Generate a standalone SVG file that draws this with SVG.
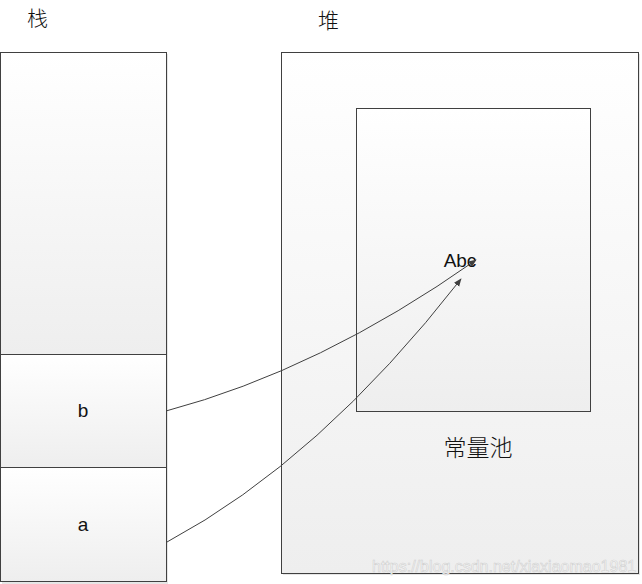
<svg xmlns="http://www.w3.org/2000/svg" width="642" height="584" viewBox="0 0 642 584">
<style>
.box{stroke:#404040;stroke-width:1;fill:url(#g)}
.cjk{font-family:"Noto Sans CJK SC","Noto Sans",sans-serif;fill:#111;font-weight:300}
.lbl{font-family:"Liberation Sans",Arial,sans-serif;font-size:19px;fill:#111;text-anchor:middle}
.conn{fill:none;stroke:#404040;stroke-width:1}
.wm{font-family:"Liberation Sans",Arial,sans-serif;font-size:16px;fill:#fafafa;stroke:#d0d0d0;stroke-width:0.6}
</style>
<defs>
<linearGradient id="g" x1="0" y1="0" x2="0" y2="1">
<stop offset="0" stop-color="#ffffff"/>
<stop offset="1" stop-color="#eeeeee"/>
</linearGradient>
<marker id="arr" viewBox="0 0 10 10" refX="9" refY="5" markerWidth="8" markerHeight="8" markerUnits="userSpaceOnUse" orient="auto">
<path d="M0,1 L10,5 L0,9 z" fill="#404040"/>
</marker>
</defs>
<rect width="642" height="584" fill="#ffffff"/>
<text class="cjk" x="27" y="26" font-size="21">栈</text>
<text class="cjk" x="318" y="28" font-size="21">堆</text>
<g id="stack-top">
<rect x="2" y="54" width="166" height="302" fill="#e6e6e6"/>
<rect class="box" x="0.5" y="52.5" width="166" height="302"/>
</g>
<g id="heap">
<rect x="283" y="54" width="357" height="521" fill="#e6e6e6"/>
<rect class="box" x="281.5" y="52.5" width="357" height="521"/>
</g>
<g id="pool">
<rect class="box" x="356.5" y="108.5" width="234" height="303"/>
<text class="lbl" x="460" y="267" font-size="20">Abc</text>
<text class="cjk" x="478" y="456" font-size="23" text-anchor="middle">常量池</text>
</g>
<g id="b">
<rect x="2" y="356" width="166" height="113" fill="#e6e6e6"/>
<rect class="box" x="0.5" y="354.5" width="166" height="113"/>
<text class="lbl" x="83" y="417">b</text>
</g>
<g id="a">
<rect x="2" y="469" width="166" height="115" fill="#e6e6e6"/>
<rect class="box" x="0.5" y="467.5" width="166" height="114"/>
<text class="lbl" x="83" y="531">a</text>
</g>
<g id="connectors">
<path class="conn" d="M166,411 Q320,370 476,260" marker-end="url(#arr)"/>
<path class="conn" d="M167,542 Q320,460 461,279" marker-end="url(#arr)"/>
</g>
<text class="wm" x="372" y="572">https://blog.csdn.net/xiaxiaomao1981</text>
</svg>
